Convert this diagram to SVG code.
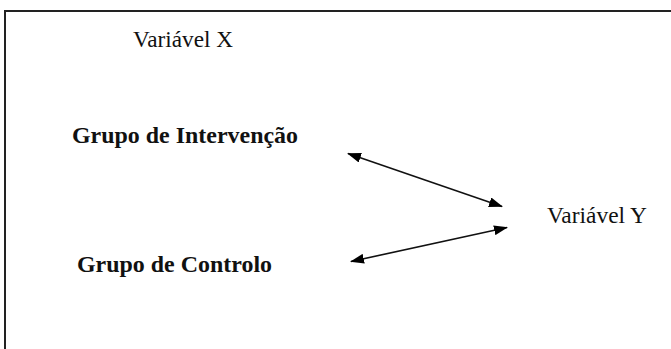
<svg xmlns="http://www.w3.org/2000/svg" width="671" height="349" viewBox="0 0 671 349">
<defs>
<marker id="ah" viewBox="0 0 14 10" refX="13" refY="5" markerWidth="14" markerHeight="10" markerUnits="userSpaceOnUse" orient="auto-start-reverse">
<path d="M0,0 L14,5 L0,10 z" fill="#000"/>
</marker>
<style>
.t{font-family:"Liberation Serif","Times New Roman",serif;font-size:23px;fill:#111}
.b{font-weight:bold}
.c{stroke:#111;stroke-width:1.6;fill:none}
</style>
</defs>
<rect width="671" height="349" fill="#fff"/>
<path d="M5,349 V11 H671" fill="none" stroke="#222" stroke-width="2"/>
<g id="varX"><text class="t" x="133" y="47" textLength="100" lengthAdjust="spacingAndGlyphs">Variável X</text></g>
<g id="grupoIntervencao"><text class="t b" x="72" y="143" textLength="226" lengthAdjust="spacingAndGlyphs">Grupo de Intervenção</text></g>
<g id="grupoControlo"><text class="t b" x="77" y="272" textLength="195" lengthAdjust="spacingAndGlyphs">Grupo de Controlo</text></g>
<g id="varY"><text class="t" x="547" y="223" textLength="100" lengthAdjust="spacingAndGlyphs">Variável Y</text></g>
<g id="connectors">
<line class="c" x1="348" y1="153.5" x2="502" y2="206.5" marker-start="url(#ah)" marker-end="url(#ah)"/>
<line class="c" x1="351" y1="261.5" x2="507" y2="227.5" marker-start="url(#ah)" marker-end="url(#ah)"/>
</g>
</svg>
